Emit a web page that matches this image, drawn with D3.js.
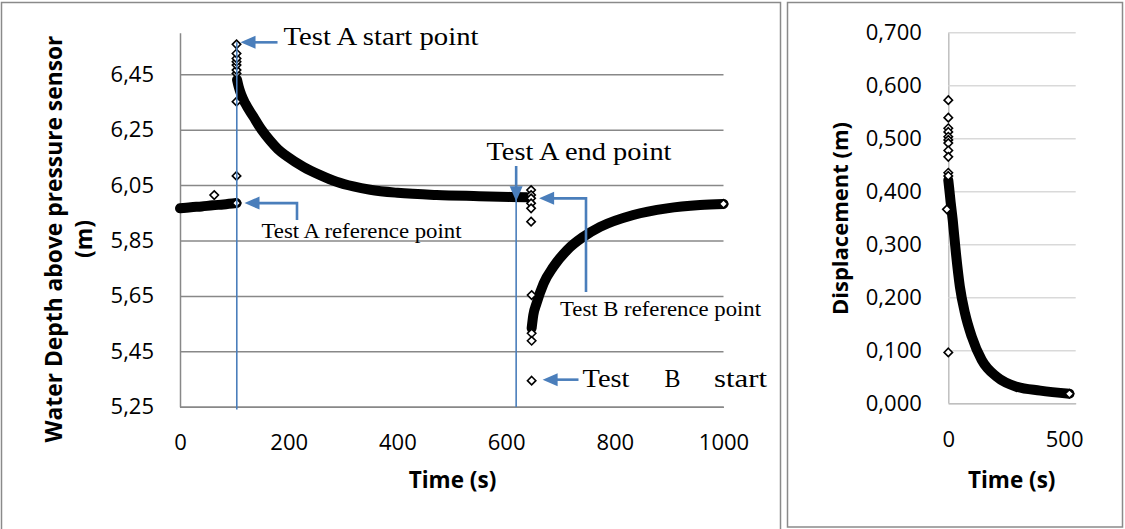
<!DOCTYPE html>
<html>
<head>
<meta charset="utf-8">
<script src="https://cdn.jsdelivr.net/npm/d3@7"></script>
<style>
  body { margin: 0; background: #fff; }
  svg { display: block; }
</style>
</head>
<body>
<svg id="chart" width="1125" height="529"></svg>
<script>
// ---- Water depth record (time s, depth m) ----
const preTest = [[0, 5.966], [20, 5.970], [40, 5.973], [60, 5.977], [80, 5.980], [104, 5.985]];
const recoveryA = [[105, 6.430], [108, 6.405], [113, 6.375], [120, 6.345], [135, 6.297], [150, 6.250],
  [166, 6.210], [180, 6.180], [196, 6.155], [227, 6.116], [258, 6.086], [288, 6.062], [319, 6.045],
  [350, 6.033], [400, 6.022], [472, 6.014], [550, 6.010], [638, 6.006]];
const recoveryB = [[647, 5.533], [650, 5.580], [656, 5.623], [669, 5.695], [687, 5.755], [712, 5.815],
  [742, 5.863], [773, 5.899], [834, 5.942], [896, 5.966], [957, 5.978], [1000, 5.982]];
const loosePointsA = [[63, 6.014], [104, 5.985], [104, 6.083], [104, 6.351], [104, 6.453], [104, 6.465],
  [104, 6.483], [104, 6.495], [104, 6.507], [104, 6.525], [104, 6.558]];
const loosePointsB = [[646, 6.032], [646, 6.014], [646, 6.002], [646, 5.984], [646, 5.966], [646, 5.918],
  [647, 5.653], [647, 5.515], [647, 5.488], [647, 5.344]];
const lastDepth = [[1000, 5.982]];
const depthTicks = [5.25, 5.45, 5.65, 5.85, 6.05, 6.25, 6.45];
const depthTickLabels = ["5,25", "5,45", "5,65", "5,85", "6,05", "6,25", "6,45"];
const timeTicks = [0, 200, 400, 600, 800, 1000];
const timeTickLabels = ["0", "200", "400", "600", "800", "1000"];
const testStartA = 104.5;   // s
const testEndA = 618.5;     // s

// ---- Displacement of test A (time s, displacement m) ----
const dispPoints = [[0, 0.572], [0, 0.539], [0, 0.519], [0, 0.512], [0, 0.503], [0, 0.497], [0, 0.491],
  [0, 0.477], [0, 0.465], [0, 0.435], [0, 0.429], [-6, 0.366], [0, 0.096]];
const dispCurve = [[0, 0.421], [4, 0.405], [10, 0.380], [19, 0.346], [33, 0.283], [50, 0.220], [72, 0.170],
  [101, 0.126], [144, 0.082], [209, 0.050], [296, 0.031], [397, 0.024], [523, 0.018]];
const lastDisp = [[523, 0.018]];
const dispTicks = [0, 0.1, 0.2, 0.3, 0.4, 0.5, 0.6, 0.7];
const dispTickLabels = ["0,000", "0,100", "0,200", "0,300", "0,400", "0,500", "0,600", "0,700"];
const dispTimeTicks = [0, 500];
const dispTimeTickLabels = ["0", "500"];

const svg = d3.select("#chart");
const BLUE = "#4a7ebb";
const SANS = "'Open Sans', 'Noto Sans', sans-serif";
const SERIF = "'Liberation Serif', 'DejaVu Serif', serif";

// panel frames
svg.append("rect").attr("x", 1.5).attr("y", 2.5).attr("width", 779).attr("height", 540)
  .attr("fill", "none").attr("stroke", "#8a8a8a").attr("stroke-width", 1.5);
svg.append("rect").attr("x", 787.5).attr("y", 2.5).attr("width", 335).attr("height", 524.5)
  .attr("fill", "none").attr("stroke", "#8a8a8a").attr("stroke-width", 1.5);

const diamond = "M0,-4.2L4.2,0L0,4.2L-4.2,0Z";

function drawPanel(cfg) {
  const g = svg.append("g");
  const x = d3.scaleLinear().domain(cfg.xDomain).range(cfg.xRange);
  const y = d3.scaleLinear().domain(cfg.yDomain).range(cfg.yRange);
  const w = cfg.xRange[1] - cfg.xRange[0];

  // horizontal gridlines + value labels
  const yAxis = d3.axisLeft(y).tickValues(cfg.yTicks)
    .tickFormat((d, i) => cfg.yLabels[i]).tickSize(-w).tickSizeOuter(0).tickPadding(cfg.yPad);
  const ya = g.append("g").attr("transform", `translate(${cfg.xRange[0]},0)`).call(yAxis);
  ya.selectAll(".tick line").attr("stroke", cfg.grid).attr("stroke-width", 1.5);
  ya.select(".domain").attr("stroke", cfg.axis).attr("stroke-width", 1.5);
  ya.selectAll("text").attr("font-family", SANS).attr("font-size", cfg.tickFont).attr("fill", "#000");

  const xAxis = d3.axisBottom(x).tickValues(cfg.xTicks)
    .tickFormat((d, i) => cfg.xLabels[i]).tickSize(0).tickSizeOuter(0).tickPadding(cfg.xPad);
  const xa = g.append("g").attr("transform", `translate(0,${cfg.yRange[0]})`).call(xAxis);
  xa.select(".domain").attr("stroke", cfg.axis).attr("stroke-width", 1.5);
  xa.selectAll("text").attr("font-family", SANS).attr("font-size", cfg.tickFont).attr("fill", "#000");

  return { g, x, y };
}

// ---------- left panel: water depth ----------
const L = drawPanel({
  xDomain: [0, 1000], xRange: [180, 723.5],
  yDomain: [5.25, 6.6], yRange: [406.7, 32.7],
  yTicks: depthTicks, yLabels: depthTickLabels, xTicks: timeTicks, xLabels: timeTickLabels,
  grid: "#888", axis: "#888", tickFont: 22, yPad: 26, xPad: 28
});

const lineL = d3.line().x(d => L.x(d[0])).y(d => L.y(d[1])).curve(d3.curveMonotoneX);

[preTest, recoveryA, recoveryB].forEach(series => {
  L.g.append("path").datum(series).attr("d", lineL).attr("fill", "none")
    .attr("stroke", "#000").attr("stroke-width", 10)
    .attr("stroke-linecap", "round").attr("stroke-linejoin", "round");
});

L.g.selectAll(".pt").data(loosePointsA.concat(loosePointsB, lastDepth)).join("path")
  .attr("d", diamond).attr("transform", d => `translate(${L.x(d[0])},${L.y(d[1])})`)
  .attr("fill", "#fff").attr("stroke", "#000").attr("stroke-width", 1.6);

// vertical marker of the test A start
L.g.append("line").attr("x1", L.x(testStartA)).attr("x2", L.x(testStartA))
  .attr("y1", L.y(6.558) - 2).attr("y2", 409.5).attr("stroke", BLUE).attr("stroke-width", 1.6);

// annotation arrows
function arrow(points, dir) {
  // points: polyline from tail to the tip; dir = direction of the head
  const tip = points[points.length - 1];
  const len = 15, half = 6.5;
  const a = L.g.append("g");
  const shaft = points.slice();
  const back = { l: [len - 2, 0], r: [-(len - 2), 0], d: [0, -(len - 2)], u: [0, len - 2] }[dir];
  shaft[shaft.length - 1] = [tip[0] + back[0], tip[1] + back[1]];
  a.append("path").attr("d", d3.line()(shaft)).attr("fill", "none")
    .attr("stroke", BLUE).attr("stroke-width", 2.6);
  let head;
  if (dir === "l") head = [[tip[0], tip[1]], [tip[0] + len, tip[1] - half], [tip[0] + len, tip[1] + half]];
  if (dir === "d") head = [[tip[0], tip[1]], [tip[0] - half, tip[1] - len], [tip[0] + half, tip[1] - len]];
  a.append("path").attr("d", "M" + head.join("L") + "Z").attr("fill", BLUE);
}

const ax = L.x, ay = L.y;
// Test A start point
arrow([[ax(104) + 41, ay(6.558) - 2], [ax(104) + 4, ay(6.558) - 2]], "l");
// Test A end point
L.g.append("line").attr("x1", ax(testEndA)).attr("x2", ax(testEndA))
  .attr("y1", 180).attr("y2", 407).attr("stroke", BLUE).attr("stroke-width", 1.6);
arrow([[ax(testEndA), 166], [ax(testEndA), ay(6.006) + 4]], "d");
// Test A reference point
arrow([[297, 220], [297, ay(5.985)], [ax(104) + 8, ay(5.985)]], "l");
// Test B reference point
arrow([[586, 292], [586, ay(6.002)], [ax(646) + 8, ay(6.002)]], "l");
// Test B start
arrow([[578.5, ay(5.344) - 1], [ax(647) + 11, ay(5.344) - 1]], "l");

function label(txt, x, y, size, len) {
  const t = L.g.append("text").attr("x", x).attr("y", y).text(txt)
    .attr("font-family", SERIF).attr("font-size", size).attr("fill", "#000");
  if (len) t.attr("textLength", len).attr("lengthAdjust", "spacingAndGlyphs");
  return t;
}
label("Test A start point", 283.5, 45, 26, 195);
label("Test A end point", 486.5, 159.5, 26, 185);
label("Test A reference point", 261.5, 238.3, 21, 200);
label("Test B reference point", 560, 316, 21, 201);
label("Test", 582.5, 386.7, 26, 47);
label("B", 664.5, 386.7, 26, 16);
label("start", 714, 386.7, 26, 53);

// axis titles
L.g.append("text").attr("transform", "translate(62,239) rotate(-90)").attr("text-anchor", "middle")
  .attr("font-family", SANS).attr("font-weight", 700).attr("font-size", 22.8)
  .text("Water Depth above pressure sensor");
L.g.append("text").attr("transform", "translate(92,239) rotate(-90)").attr("text-anchor", "middle")
  .attr("font-family", SANS).attr("font-weight", 700).attr("font-size", 23).text("(m)");
L.g.append("text").attr("x", 452.5).attr("y", 488).attr("text-anchor", "middle")
  .attr("font-family", SANS).attr("font-weight", 700).attr("font-size", 22.5).text("Time (s)");

// ---------- right panel: displacement ----------
const R = drawPanel({
  xDomain: [0, 550], xRange: [948.3, 1075.7],
  yDomain: [0, 0.7], yRange: [403.3, 32.3],
  yTicks: dispTicks, yLabels: dispTickLabels, xTicks: dispTimeTicks, xLabels: dispTimeTickLabels,
  grid: "#d9d9d9", axis: "#bfbfbf", tickFont: 22, yPad: 26.5, xPad: 28
});

const lineR = d3.line().x(d => R.x(d[0])).y(d => R.y(d[1])).curve(d3.curveMonotoneX);
R.g.append("path").datum(dispCurve).attr("d", lineR).attr("fill", "none")
  .attr("stroke", "#000").attr("stroke-width", 10)
  .attr("stroke-linecap", "round").attr("stroke-linejoin", "round");
R.g.selectAll(".pt").data(dispPoints.concat(lastDisp)).join("path")
  .attr("d", diamond).attr("transform", d => `translate(${R.x(d[0])},${R.y(d[1])})`)
  .attr("fill", "#fff").attr("stroke", "#000").attr("stroke-width", 1.6);

R.g.append("text").attr("transform", "translate(848,218.5) rotate(-90)").attr("text-anchor", "middle")
  .attr("font-family", SANS).attr("font-weight", 700).attr("font-size", 22).text("Displacement (m)");
R.g.append("text").attr("x", 1011.7).attr("y", 488).attr("text-anchor", "middle")
  .attr("font-family", SANS).attr("font-weight", 700).attr("font-size", 22.5).text("Time (s)");
</script>
</body>
</html>
